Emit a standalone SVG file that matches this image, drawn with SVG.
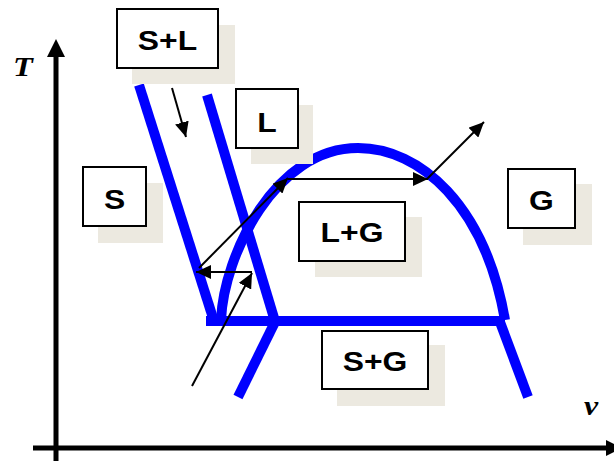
<svg xmlns="http://www.w3.org/2000/svg" width="614" height="461" viewBox="0 0 614 461">
<style>
.shadow{fill:#ECE9E0;stroke:none}
.box{fill:#FFFFFF;stroke:#000000;stroke-width:2}
.lbl{font-family:"Liberation Sans",Arial,sans-serif;font-weight:bold;font-size:27px;fill:#000000;text-anchor:middle}
.ax{font-family:"Liberation Serif","Times New Roman",serif;font-weight:bold;font-style:italic;font-size:27px;fill:#000000;text-anchor:middle}
.phase{fill:none;stroke:#0000FF;stroke-width:10}
.arr{fill:none;stroke:#000000;stroke-width:2;marker-end:url(#ah)}
</style>
<defs>
<marker id="ah" markerUnits="userSpaceOnUse" markerWidth="16" markerHeight="14" refX="15" refY="7" orient="auto">
<path d="M0,0 L15,7 L0,14 z" fill="#000000"/>
</marker>
</defs>
<rect width="614" height="461" fill="#FFFFFF"/>
<g id="axes">
<line x1="56" y1="461" x2="56" y2="55" stroke="#000" stroke-width="5"/>
<polygon points="56,39 47,57 65,57" fill="#000"/>
<line x1="33" y1="448" x2="607" y2="448" stroke="#000" stroke-width="5"/>
<polygon points="606,440 606,456 622,448" fill="#000"/>
<text class="ax" transform="translate(23,76) scale(1.2,1)">T</text>
<text class="ax" transform="translate(591,415) scale(1.18,1)">v</text>
</g>
<g id="boundaries">
<line class="phase" x1="139" y1="85" x2="213" y2="318"/>
<line class="phase" x1="207" y1="95" x2="274" y2="318"/>
<line class="phase" x1="206" y1="321" x2="505" y2="321"/>
<line class="phase" x1="275" y1="322" x2="238" y2="397"/>
<line class="phase" x1="500" y1="322" x2="528" y2="397"/>
<path class="phase" d="M221,320 C224,255 275,148 358,148 C420,148 485,205 505,320"/>
</g>
<g id="connectors">
<line class="arr" x1="172" y1="88" x2="186" y2="137"/>
<line class="arr" x1="192" y1="386" x2="252" y2="273"/>
<line class="arr" x1="252" y1="272" x2="196" y2="272"/>
<line class="arr" x1="199" y1="268" x2="288" y2="178"/>
<line class="arr" x1="288" y1="179" x2="428" y2="179"/>
<line class="arr" x1="427" y1="179" x2="484" y2="122"/>
</g>
<g id="node-SL">
<rect class="shadow" x="132" y="25" width="103" height="59"/>
<rect class="box" x="117" y="9" width="101" height="59"/>
<text class="lbl" transform="translate(167.5,50) scale(1.18,1)">S+L</text>
</g>
<g id="node-L">
<rect class="shadow" x="251" y="105" width="62" height="59"/>
<rect class="box" x="236" y="89" width="62" height="59"/>
<text class="lbl" transform="translate(267,132) scale(1.18,1)">L</text>
</g>
<g id="node-S">
<rect class="shadow" x="98" y="183" width="65" height="60"/>
<rect class="box" x="83" y="167" width="63" height="59"/>
<text class="lbl" transform="translate(114.5,209) scale(1.18,1)">S</text>
</g>
<g id="node-LG">
<rect class="shadow" x="315" y="217" width="107" height="60"/>
<rect class="box" x="299" y="202" width="106" height="59"/>
<text class="lbl" transform="translate(352,242) scale(1.18,1)">L+G</text>
</g>
<g id="node-SG">
<rect class="shadow" x="337" y="345" width="108" height="61"/>
<rect class="box" x="322" y="331" width="106" height="58"/>
<text class="lbl" transform="translate(375,371) scale(1.18,1)">S+G</text>
</g>
<g id="node-G">
<rect class="shadow" x="523" y="184" width="69" height="61"/>
<rect class="box" x="508" y="169" width="67" height="59"/>
<text class="lbl" transform="translate(541.5,209.5) scale(1.18,1)">G</text>
</g>
</svg>
